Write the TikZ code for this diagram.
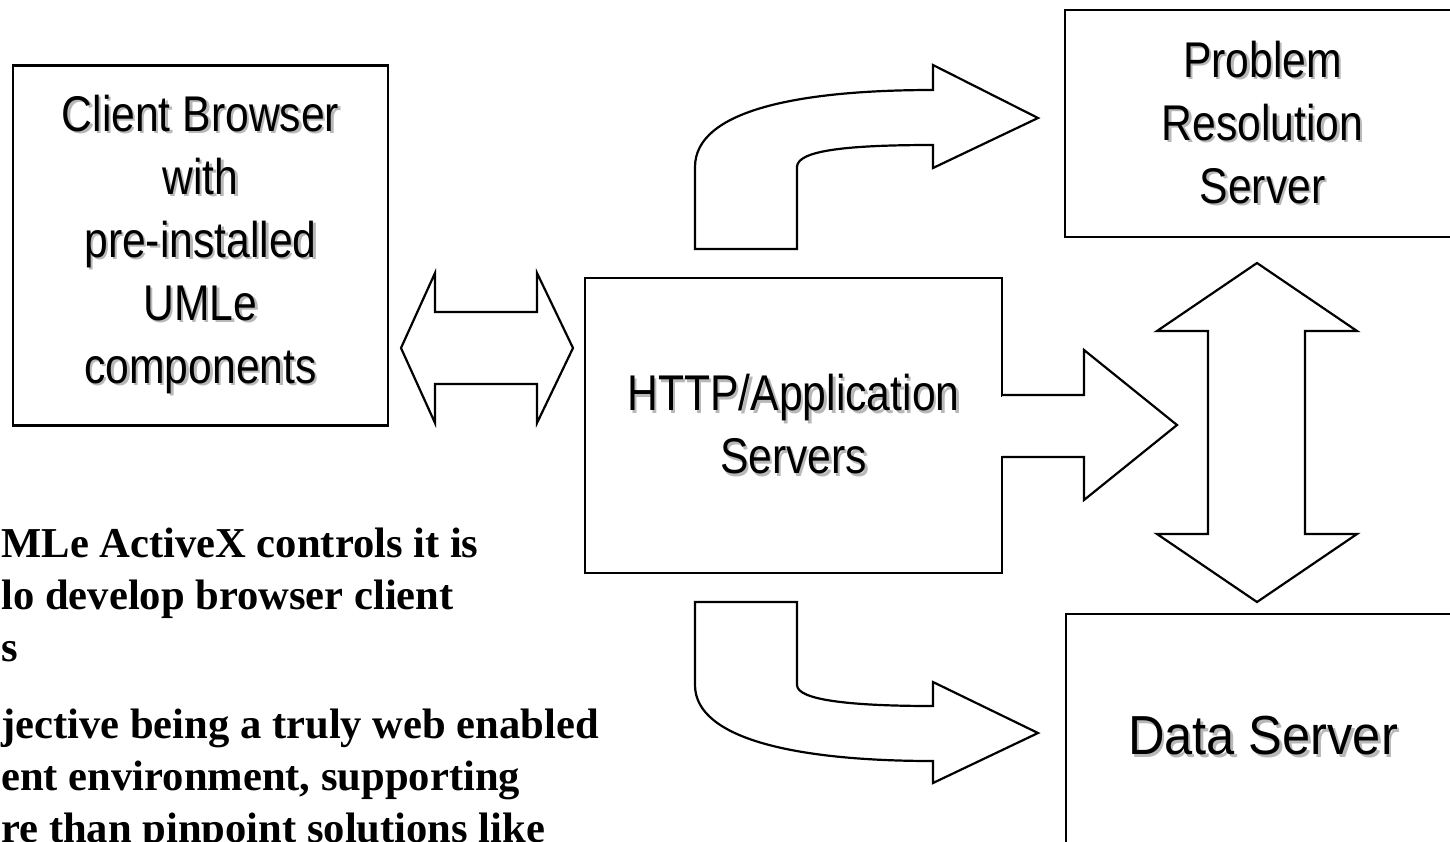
\documentclass[tikz,border=0pt]{standalone}
\usepackage{fontspec}
\setmainfont{Liberation Serif}
\setsansfont{Liberation Sans}
\newfontfamily\boxfont{Liberation Sans}[FakeStretch=0.85]
\newfontfamily\bigboxfont{Liberation Sans}[FakeStretch=0.92]
\usepackage{xcolor}
\usepackage{tikz}
\tikzset{
  server/.style={draw, line width=1.3pt, inner sep=0pt, align=center,
    font=\boxfont\fontsize{25.1}{31.5}\selectfont},
  bigserver/.style={server, font=\bigboxfont\fontsize{27.5}{31.5}\selectfont},
  blockarrow/.style={draw, fill=white, line width=1.1pt, line join=miter},
  noteline/.style={anchor=base west, inner sep=0pt,
    font=\bfseries\fontsize{21.3}{26}\selectfont},
}
% grey drop shadow under a line of box text
\newcommand{\shline}[1]{\makebox[0pt][l]{\hspace{1.2pt}\raisebox{-1.2pt}{\textcolor{black!28}{#1}}}#1}

\begin{document}
\begin{tikzpicture}[x=0.5pt, y=-0.5pt]
\useasboundingbox (0,0) rectangle (1450,841);
\clip (0,0) rectangle (1450,841);

% boxes
\node[server, minimum width=187.5pt, minimum height=180pt] (client) at (200.5,245.5)
  {\shline{Client Browser}\\ \shline{with}\\ \shline{pre-installed}\\ \shline{UMLe}\\ \shline{components}};
\node[server, minimum width=208.5pt, minimum height=147.5pt] (http) at (793.5,425.5)
  {\shline{HTTP/Application}\\ \shline{Servers}};
\node[server, minimum width=197.5pt, minimum height=113.5pt] (problem) at (1262.5,123.5)
  {\shline{Problem}\\ \shline{Resolution}\\ \shline{Server}};
\node[bigserver, minimum width=197pt, minimum height=123pt] (data) at (1263,737)
  {\shline{Data Server}};

% block arrows
\draw[blockarrow] (401,348) -- (435,273) -- (435,312) -- (537,312) -- (537,273) -- (573,348)
  -- (537,423) -- (537,384) -- (435,384) -- (435,423) -- cycle;
\draw[blockarrow] (695,249) -- (695,167) .. controls (695,110) and (800,90) .. (933,90)
  -- (933,65) -- (1038,118) -- (933,168) -- (933,145)
  .. controls (850,145) and (797,150) .. (797,167) -- (797,249) -- cycle;
\draw[blockarrow] (695,602) -- (797,602) -- (797,685) .. controls (797,700) and (850,706) .. (933,706)
  -- (933,682) -- (1038,733) -- (933,783) -- (933,761)
  .. controls (800,761) and (695,740) .. (695,685) -- cycle;
\fill[white] (999,396.5) rectangle (1004.5,455.5);
\draw[blockarrow] (1002,395) -- (1084,395) -- (1084,350) -- (1177,425) -- (1084,500)
  -- (1084,457) -- (1002,457);
\draw[blockarrow] (1257,263) -- (1357,331) -- (1305,331) -- (1305,534) -- (1357,534)
  -- (1257,602) -- (1157,534) -- (1208,534) -- (1208,331) -- (1157,331) -- cycle;

% notes (cut at the left edge)
\foreach \txt/\yy [count=\i] in {{MLe ActiveX controls it is}/557, {lo develop browser client}/609,
    {s}/661, {jective being a truly web enabled}/738, {ent environment, supporting}/790,
    {re than pinpoint solutions like}/842}
  \node[noteline] (note\i) at (1,\yy) {\txt};
\end{tikzpicture}
\end{document}
